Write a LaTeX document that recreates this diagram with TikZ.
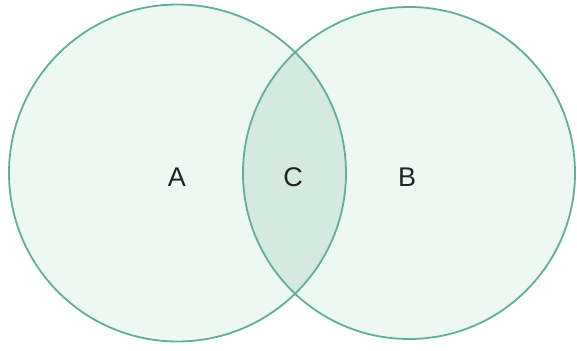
\documentclass[tikz,border=0pt]{standalone}
\usepackage{fontspec}
\setmainfont{Liberation Sans}
\definecolor{ringc}{RGB}{98,174,150}
\definecolor{fillc}{RGB}{238,248,243}
\definecolor{midc}{RGB}{212,234,224}
\definecolor{txtc}{RGB}{35,35,35}
\begin{document}
\begin{tikzpicture}[x=1pt,y=-1pt,
  ring/.style={draw=ringc,line width=1.8pt},
  lbl/.style={font=\fontsize{27}{31}\selectfont,text=txtc}]
\useasboundingbox (0,0) rectangle (577,350);
\fill[white] (0,0) rectangle (577,350);
\coordinate (ca) at (177.5,173);
\coordinate (cb) at (409,173);
\fill[fillc] (ca) circle[radius=168.5];
\fill[fillc] (cb) circle[radius=166];
\begin{scope}
  \clip (ca) circle[radius=168.5];
  \fill[midc] (cb) circle[radius=166];
\end{scope}
\draw[ring] (ca) circle[radius=168.5];
\draw[ring] (cb) circle[radius=166];
\node[lbl] (a) at (177,177) {A};
\node[lbl] (c) at (293,177) {C};
\node[lbl] (b) at (407,177) {B};
\end{tikzpicture}
\end{document}
